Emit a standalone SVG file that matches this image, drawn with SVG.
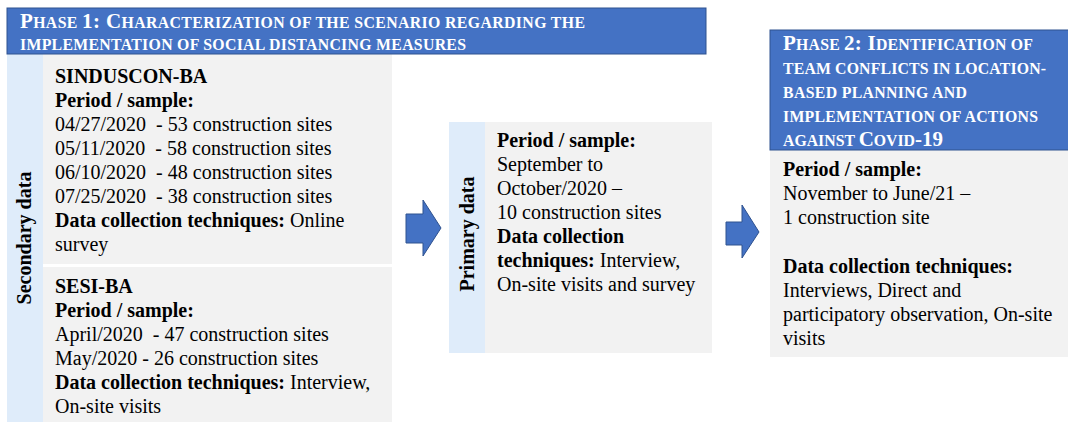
<svg xmlns="http://www.w3.org/2000/svg" width="1068" height="422" viewBox="0 0 1068 422">
<style>
.hdr{fill:#4472C4;stroke:#2F528F;stroke-width:1}
.side{fill:#DFECFA}
.body{fill:#F2F2F2}
.ht{font-family:"Liberation Serif","Times New Roman",serif;font-weight:bold;font-size:15.8px;fill:#FFFFFF}
.cap{font-size:21px}
.t{font-family:"Liberation Serif","Times New Roman",serif;font-size:20px;fill:#000000}
.b{font-weight:bold}
.arr{fill:#4472C4;stroke:#2F528F;stroke-width:1}
</style>
<rect width="1068" height="422" fill="#FFFFFF"/>

<g id="phase1">
  <rect class="side" x="7" y="54" width="36" height="368"/>
  <rect class="body" x="43" y="54" width="349" height="210"/>
  <rect class="body" x="43" y="267" width="349" height="155"/>
  <rect class="hdr" x="7" y="8" width="699" height="46"/>
  <text class="ht" x="20" y="28" textLength="565"><tspan class="cap">P</tspan>HASE <tspan class="cap">1: C</tspan>HARACTERIZATION OF THE SCENARIO REGARDING THE</text>
  <text class="ht" x="20" y="50" textLength="446">IMPLEMENTATION OF SOCIAL DISTANCING MEASURES</text>
  <text class="t b" transform="translate(31,238) rotate(-90)" text-anchor="middle">Secondary data</text>
</g>

<g id="sinduscon">
  <text class="t b" x="55" y="83">SINDUSCON-BA</text>
  <text class="t b" x="55" y="107">Period / sample:</text>
  <text class="t" x="55" y="131">04/27/2020&#160; - 53 construction sites</text>
  <text class="t" x="55" y="155">05/11/2020&#160; - 58 construction sites</text>
  <text class="t" x="55" y="179">06/10/2020&#160; - 48 construction sites</text>
  <text class="t" x="55" y="203">07/25/2020&#160; - 38 construction sites</text>
  <text class="t" x="55" y="227"><tspan class="b">Data collection techniques:</tspan> Online</text>
  <text class="t" x="55" y="251">survey</text>
</g>

<g id="sesi">
  <text class="t b" x="55" y="293">SESI-BA</text>
  <text class="t b" x="55" y="317">Period / sample:</text>
  <text class="t" x="55" y="341">April/2020&#160; - 47 construction sites</text>
  <text class="t" x="55" y="365">May/2020 - 26 construction sites</text>
  <text class="t" x="55" y="389"><tspan class="b">Data collection techniques:</tspan> Interview,</text>
  <text class="t" x="55" y="413">On-site visits</text>
</g>

<g id="primary">
  <rect class="side" x="449" y="122" width="36" height="231"/>
  <rect class="body" x="485" y="122" width="227" height="231"/>
  <text class="t b" transform="translate(474,234) rotate(-90)" text-anchor="middle">Primary data</text>
  <text class="t b" x="497" y="147">Period / sample:</text>
  <text class="t" x="497" y="171">September to</text>
  <text class="t" x="497" y="195">October/2020 –</text>
  <text class="t" x="497" y="219">10 construction sites</text>
  <text class="t b" x="497" y="243">Data collection</text>
  <text class="t" x="497" y="267"><tspan class="b">techniques:</tspan> Interview,</text>
  <text class="t" x="497" y="291">On-site visits and survey</text>
</g>

<g id="phase2">
  <rect class="body" x="770" y="150" width="298" height="207"/>
  <rect class="hdr" x="770" y="30" width="299" height="120"/>
  <text class="ht" x="783" y="50" textLength="250"><tspan class="cap">P</tspan>HASE <tspan class="cap">2: I</tspan>DENTIFICATION OF</text>
  <text class="ht" x="783" y="74" textLength="263">TEAM CONFLICTS IN LOCATION-</text>
  <text class="ht" x="783" y="98" textLength="184">BASED PLANNING AND</text>
  <text class="ht" x="783" y="122" textLength="255">IMPLEMENTATION OF ACTIONS</text>
  <text class="ht" x="783" y="146" textLength="160">AGAINST <tspan class="cap">C</tspan>OVID<tspan class="cap">-19</tspan></text>
  <text class="t b" x="783" y="176">Period / sample:</text>
  <text class="t" x="783" y="200">November to June/21 –</text>
  <text class="t" x="783" y="224">1 construction site</text>
  <text class="t b" x="783" y="273">Data collection techniques:</text>
  <text class="t" x="783" y="297">Interviews, Direct and</text>
  <text class="t" x="783" y="321">participatory observation, On-site</text>
  <text class="t" x="783" y="345">visits</text>
</g>

<g id="connectors">
  <path class="arr" d="M406,214 L423,214 L423,200 L441,228 L423,256 L423,243 L406,243 Z"/>
  <path class="arr" d="M726,222 L742,222 L742,205 L759,232 L742,258 L742,245 L726,245 Z"/>
</g>
</svg>
